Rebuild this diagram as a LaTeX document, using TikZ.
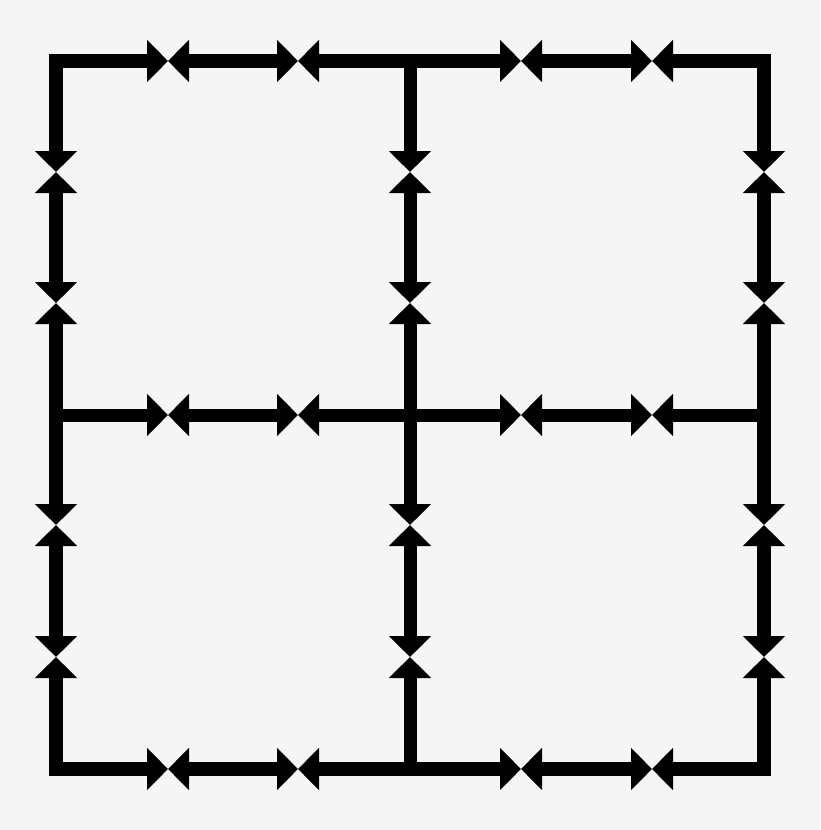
\documentclass[tikz,border=0pt]{standalone}
\usetikzlibrary{arrows.meta}
\definecolor{bg}{RGB}{245,245,245}
\begin{document}
\begin{tikzpicture}[x=1pt,y=-1pt,
  link/.style={line width=14pt,line join=miter,black,
    arrows={-Triangle[length=21pt,width=41pt]}},
  dlink/.style={link,arrows={Triangle[length=21pt,width=41pt]-Triangle[length=21pt,width=41pt]}},
  ilink/.style={line width=13pt}]
\fill[bg] (0,0) rectangle (820,830);
\useasboundingbox (0,0) rectangle (820,830);
% grid of named coordinates p-i-j
\def\xs{56,168,298,410,521,652,764}
\def\ys{61,172,303,415,525,657,769}
\foreach \x [count=\i from 0] in \xs {
  \foreach \y [count=\j from 0] in \ys {
    \coordinate (p-\i-\j) at (\x,\y);
  }
}
% corners
\draw[dlink] (p-0-1) -- (p-0-0) -- (p-1-0);
\draw[dlink] (p-5-0) -- (p-6-0) -- (p-6-1);
\draw[dlink] (p-0-5) -- (p-0-6) -- (p-1-6);
\draw[dlink] (p-5-6) -- (p-6-6) -- (p-6-5);
% edge T junctions
\draw[dlink] (p-2-0) -- (p-4-0);
\draw[link,ilink] (p-3-0) -- (p-3-1);
\draw[dlink] (p-2-6) -- (p-4-6);
\draw[link,ilink] (p-3-6) -- (p-3-5);
\draw[dlink] (p-0-2) -- (p-0-4);
\draw[link,ilink] (p-0-3) -- (p-1-3);
\draw[dlink] (p-6-2) -- (p-6-4);
\draw[link,ilink] (p-6-3) -- (p-5-3);
% centre crossing
\draw[dlink,ilink] (p-2-3) -- (p-4-3);
\draw[dlink,ilink] (p-3-2) -- (p-3-4);
% double arrows on outer rows / columns
\foreach \k in {0,6} {
  \draw[dlink] (p-1-\k) -- (p-2-\k);
  \draw[dlink] (p-4-\k) -- (p-5-\k);
  \draw[dlink] (p-\k-1) -- (p-\k-2);
  \draw[dlink] (p-\k-4) -- (p-\k-5);
}
% double arrows on the inner row / column
\draw[dlink,ilink] (p-1-3) -- (p-2-3);
\draw[dlink,ilink] (p-4-3) -- (p-5-3);
\draw[dlink,ilink] (p-3-1) -- (p-3-2);
\draw[dlink,ilink] (p-3-4) -- (p-3-5);
\end{tikzpicture}
\end{document}
